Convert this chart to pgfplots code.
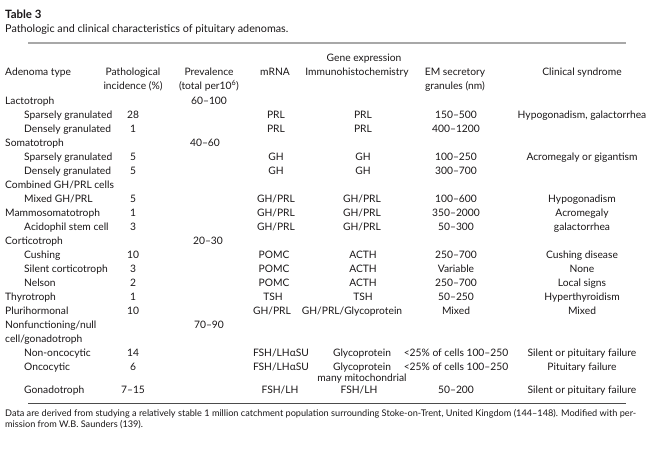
\documentclass[border=0pt]{standalone}
\usepackage{pgfplots}
\pgfplotsset{compat=1.18}
\usepackage{fontspec}
\setmainfont{Lato}
\definecolor{txt}{HTML}{1A1718}
\definecolor{rulegray}{HTML}{A8A8A8}
\newcommand{\cL}[3]{\node[anchor=mid west, inner sep=0pt, text=txt, font=\fontsize{10.3}{12}\selectfont] at (axis cs:#1,#2) {#3};}
\newcommand{\cC}[3]{\node[anchor=mid, inner sep=0pt, text=txt, font=\fontsize{10.3}{12}\selectfont] at (axis cs:#1,#2) {#3};}
\begin{document}
\begin{tikzpicture}
\begin{axis}[
  scale only axis, width=669bp, height=451bp,
  xmin=0, xmax=669, ymin=0, ymax=451, y dir=reverse,
  hide axis, clip=false]
\addplot[draw=none] coordinates {(0,0) (669,451)};
% title
\node[anchor=mid west, inner sep=0pt, text=txt, font=\fontsize{11.5}{13}\selectfont\bfseries] at (axis cs:5,16) {Table 3};
\node[anchor=mid west, inner sep=0pt, text=txt, font=\fontsize{10.8}{12}\selectfont] at (axis cs:5,30) {Pathologic and clinical characteristics of pituitary adenomas.};
% rules
\addplot[rulegray, line width=1.4bp] coordinates {(28,43) (626,43)};
\addplot[black!70, line width=0.7bp] coordinates {(28,403) (626,403)};
% header
\cC{364}{59}{Gene expression}
\cL{5}{73}{Adenoma type}
\cC{133}{73}{Pathological}
\cC{133}{87}{incidence (\%)}
\cC{209}{73}{Prevalence}
\cC{209}{87}{(total per10\textsuperscript{6})}
\cC{275}{73}{mRNA}
\cC{357}{73}{Immunohistochemistry}
\cC{455}{73}{EM secretory}
\cC{455}{87}{granules (nm)}
\cC{582}{73}{Clinical syndrome}
% rows
\cL{5}{102}{Lactotroph}
\cC{209}{102}{60–100}
\cL{24}{116}{Sparsely granulated}
\cC{133}{116}{28}
\cC{276}{116}{PRL}
\cC{363}{116}{PRL}
\cC{456}{116}{150–500}
\cC{582}{116}{Hypogonadism, galactorrhea}
\cL{24}{130}{Densely granulated}
\cC{133}{130}{1}
\cC{276}{130}{PRL}
\cC{363}{130}{PRL}
\cC{456}{130}{400–1200}
\cL{5}{144}{Somatotroph}
\cC{205}{144}{40–60}
\cL{24}{158}{Sparsely granulated}
\cC{133}{158}{5}
\cC{276}{158}{GH}
\cC{363}{158}{GH}
\cC{456}{158}{100–250}
\cC{582}{158}{Acromegaly or gigantism}
\cL{24}{172}{Densely granulated}
\cC{133}{172}{5}
\cC{276}{172}{GH}
\cC{363}{172}{GH}
\cC{456}{172}{300–700}
\cL{5}{186}{Combined GH/PRL cells}
\cL{24}{200}{Mixed GH/PRL}
\cC{133}{200}{5}
\cC{276}{200}{GH/PRL}
\cC{362}{200}{GH/PRL}
\cC{456}{200}{100–600}
\cC{582}{200}{Hypogonadism}
\cL{5}{214}{Mammosomatotroph}
\cC{133}{214}{1}
\cC{276}{214}{GH/PRL}
\cC{362}{214}{GH/PRL}
\cC{456}{214}{350–2000}
\cC{582}{214}{Acromegaly}
\cL{24}{228}{Acidophil stem cell}
\cC{133}{228}{3}
\cC{276}{228}{GH/PRL}
\cC{362}{228}{GH/PRL}
\cC{456}{228}{50–300}
\cC{582}{228}{galactorrhea}
\cL{5}{242}{Corticotroph}
\cC{208}{242}{20–30}
\cL{24}{256}{Cushing}
\cC{133}{256}{10}
\cC{274}{256}{POMC}
\cC{363}{256}{ACTH}
\cC{456}{256}{250–700}
\cC{582}{256}{Cushing disease}
\cL{24}{270}{Silent corticotroph}
\cC{133}{270}{3}
\cC{274}{270}{POMC}
\cC{363}{270}{ACTH}
\cC{456}{270}{Variable}
\cC{582}{270}{None}
\cL{24}{284}{Nelson}
\cC{133}{284}{2}
\cC{274}{284}{POMC}
\cC{363}{284}{ACTH}
\cC{456}{284}{250–700}
\cC{582}{284}{Local signs}
\cL{5}{298}{Thyrotroph}
\cC{133}{298}{1}
\cC{273}{298}{TSH}
\cC{363}{298}{TSH}
\cC{456}{298}{50–250}
\cC{582}{298}{Hyperthyroidism}
\cL{5}{312}{Plurihormonal}
\cC{133}{312}{10}
\cC{272}{312}{GH/PRL}
\cC{352}{312}{GH/PRL/Glycoprotein}
\cC{456}{312}{Mixed}
\cC{582}{312}{Mixed}
\cL{5}{326}{Nonfunctioning/null}
\cC{209}{326}{70–90}
\cL{5}{340}{cell/gonadotroph}
\cL{24}{354}{Non-oncocytic}
\cC{133}{354}{14}
\cC{281}{354}{FSH/LHαSU}
\cC{362}{354}{Glycoprotein}
\cC{456}{354}{<25\% of cells 100–250}
\cC{582}{354}{Silent or pituitary failure}
\cL{24}{368}{Oncocytic}
\cC{133}{368}{6}
\cC{281}{368}{FSH/LHαSU}
\cC{362}{368}{Glycoprotein}
\cC{456}{368}{<25\% of cells 100–250}
\cC{582}{368}{Pituitary failure}
\cC{362}{379}{many mitochondrial}
\cL{24}{391}{Gonadotroph}
\cC{133}{391}{7–15}
\cC{280}{391}{FSH/LH}
\cC{359}{391}{FSH/LH}
\cC{456}{391}{50–200}
\cC{582}{391}{Silent or pituitary failure}
% footnote
\node[anchor=mid west, inner sep=0pt, text=txt, font=\fontsize{9.2}{11}\selectfont] at (axis cs:5,414) {Data are derived from studying a relatively stable 1 million catchment population surrounding Stoke-on-Trent, United Kingdom (144–148). Modified with per-};
\node[anchor=mid west, inner sep=0pt, text=txt, font=\fontsize{9.2}{11}\selectfont] at (axis cs:5,425) {mission from W.B. Saunders (139).};
\end{axis}
\end{tikzpicture}
\end{document}
